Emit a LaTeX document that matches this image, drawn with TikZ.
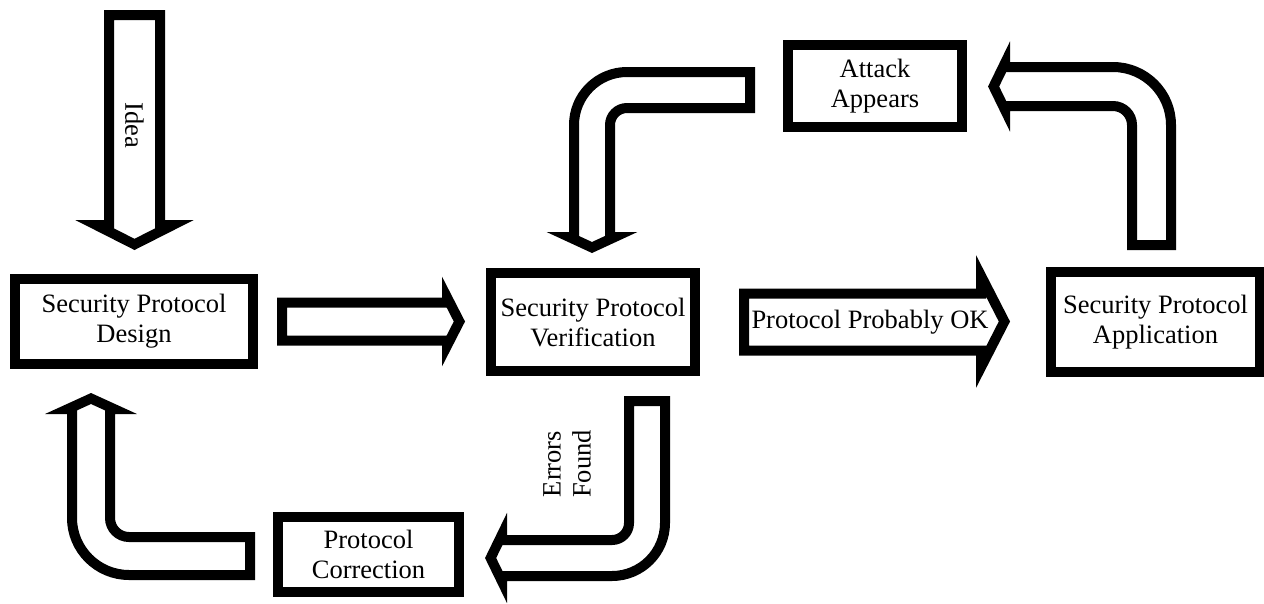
\documentclass[tikz,border=0pt]{standalone}
\usepackage{fontspec}
\setmainfont{Liberation Serif}
\begin{document}
\begin{tikzpicture}[x=1pt,y=-1pt,
  box/.style={draw, line width=10pt, fill=white, align=center, inner sep=0pt,
    line join=miter, font=\fontsize{26.5}{30}\selectfont},
  blk/.style={draw, line width=10pt, fill=white, line join=miter, miter limit=10},
  lbl/.style={align=center, inner sep=0pt, font=\fontsize{26.5}{30}\selectfont}]
\useasboundingbox (0,0) rectangle (1264,603);

% boxes
\node[box, minimum width=238pt, minimum height=85pt] (design) at (134,321.5) {Security Protocol\\Design};
\node[box, minimum width=204pt, minimum height=98pt] (verif) at (593,322) {Security Protocol\\Verification};
\node[box, minimum width=209pt, minimum height=100pt] (app) at (1155.5,322) {Security Protocol\\Application};
\node[box, minimum width=174pt, minimum height=82pt] (attack) at (875,86) {Attack\\Appears};
\node[box, minimum width=181pt, minimum height=75pt] (corr) at (368.5,554.5) {Protocol\\Correction};

% Idea arrow (down)
\draw[blk] (109,15) -- (160,15) -- (160,225) -- (172.8,225) -- (134.5,244.4)
  -- (96.2,225) -- (109,225) -- cycle;
\node[lbl, rotate=-90] (idea) at (134.5,125) {Idea};

% Design -> Verification
\draw[blk] (282,302.5) -- (447,302.5) -- (447,297.3) -- (459.4,321.5)
  -- (447,345.7) -- (447,340.5) -- (282,340.5) -- cycle;

% Verification -> Application (Protocol Probably OK)
\draw[blk] (744,293.5) -- (981,293.5) -- (981,275.8) -- (1004.4,321.5)
  -- (981,367.2) -- (981,350.5) -- (744,350.5) -- cycle;
\node[lbl] (ok) at (870,322) {Protocol Probably OK};

% Application -> Attack Appears (up, then left)
\draw[blk] (1132,245) -- (1171,245) -- (1171,125) arc (360:270:58)
  -- (1005,67) -- (1005,63.1) -- (993.6,86.5) -- (1005,109.9) -- (1005,106)
  -- (1113,106) arc (270:360:19) -- cycle;

% Attack Appears -> Verification (left, then down)
\draw[blk] (750,72) -- (750,108) -- (627,108) arc (270:180:17)
  -- (610,237) -- (614.7,237) -- (592,247.5) -- (569.3,237) -- (574,237)
  -- (574,125) arc (180:270:53) -- cycle;

% Verification -> Correction (Errors Found)
\draw[blk] (629,401) -- (665,401) -- (665,523) arc (0:90:53)
  -- (502,576) -- (502,581.4) -- (490.6,558) -- (502,534.6) -- (502,540)
  -- (612,540) arc (90:0:17) -- cycle;
\node[lbl, rotate=90] (err) at (567,464) {Errors\\Found};

% Correction -> Design (left, then up)
\draw[blk] (250,537) -- (250,575) -- (129,575) arc (90:180:57)
  -- (72,409) -- (68,409) -- (91,398.5) -- (114,409) -- (110,409)
  -- (110,518) arc (180:90:19) -- cycle;
\end{tikzpicture}
\end{document}
